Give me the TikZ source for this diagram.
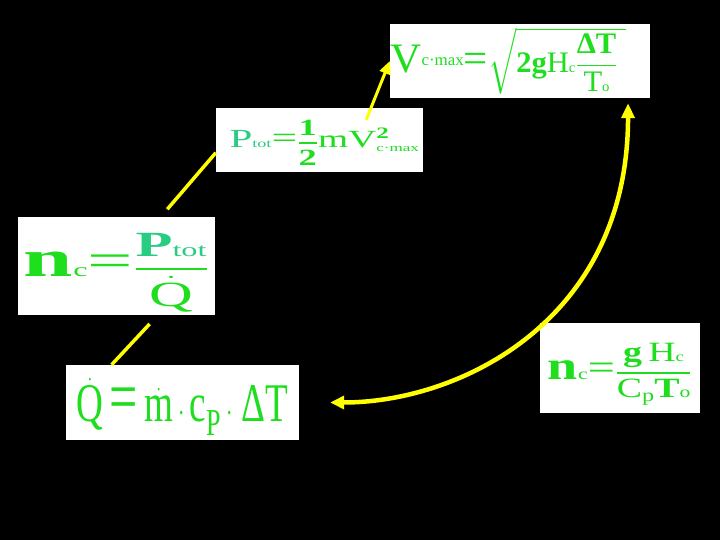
\documentclass[tikz,border=0pt]{standalone}
\usepackage{amsmath}
\usepackage{graphicx}
\usepackage{fontspec}
\setmainfont{Liberation Serif}
\usepackage{tikz}
\usetikzlibrary{arrows.meta}
\definecolor{eqg}{RGB}{30,222,30}
\definecolor{totg}{RGB}{40,205,130}
\definecolor{ylw}{RGB}{255,255,0}
\newcommand{\fs}[2]{{\fontsize{#1}{#1}\selectfont #2}}
\newcommand{\uptop}[2]{\raisebox{0pt}[\dimexpr\height+#1\relax][\depth]{#2}}

\begin{document}
\begin{tikzpicture}[x=1pt,y=-1pt,
  b/.style={fill=white,inner sep=0pt,text=eqg},
  ln/.style={draw=ylw,line width=3.5pt},
  ar/.style={ln,-{Triangle[length=13pt,width=11pt]}}]
\fill[black] (0,0) rectangle (720,540);
% formula boxes
\node[b,minimum width=260pt,minimum height=74pt] (vc) at (520,61)
  {\resizebox*{235pt}{67pt}{\fs{38}{V}\raisebox{6pt}{\fs{15}{c·max}}\fs{38}{=}%
   \fs{27}{$\sqrt{\text{\textbf{2g}H\fs{13}{c}}\genfrac{}{}{1.6pt}{0}{\text{\textbf{ΔT}}}{\text{T\fs{13}{o}}}\;}$}}\hspace*{24pt}};
\node[b,minimum width=207pt,minimum height=64pt] (pt) at (319.5,140)
  {\hspace*{10pt}\uptop{6pt}{\resizebox*{190pt}{46pt}{\fs{36}{\textcolor{totg}{P\fs{16}{tot}}}\fs{40}{=}%
   \fs{32}{$\genfrac{}{}{3pt}{0}{\text{\textbf{1}}}{\text{\textbf{2}}}$}%
   \fs{34}{$\text{m}\text{V}^{\text{\fs{22}{\textbf{2}}}}_{\text{\fs{15}{c·max}}}$}}}};
\node[b,minimum width=197pt,minimum height=98pt] (nc) at (116.5,266)
  {\uptop{13pt}{\resizebox*{185pt}{79pt}{\fs{44}{\textbf{n}}\fs{16}{c}\fs{40}{=}%
   \fs{30}{$\genfrac{}{}{1.8pt}{0}{\text{\textcolor{totg}{\textbf{P}\fs{16}{tot}}}}{\dot{\text{Q}}}$}}}};
\node[b,minimum width=233pt,minimum height=75pt] (qd) at (182.5,402.5)
  {\uptop{8pt}{\resizebox*{212pt}{57pt}{\fs{40}{$\dot{\text{Q}}\mathrel{\text{\fs{54}{=}}}\dot{\text{m}}\cdot\text{c}_{\text{P}}\cdot\,\text{ΔT}$}}}};
\node[b,minimum width=160pt,minimum height=90pt] (nr) at (620,368)
  {\uptop{12pt}{\resizebox*{144pt}{62pt}{\fs{40}{\textbf{n}}\fs{16}{c}\fs{36}{=}%
   \fs{28}{$\genfrac{}{}{1.6pt}{0}{\text{\textbf{g}\,H\fs{14}{c}}}{\text{C\raisebox{-4pt}{\fs{18}{p}}\textbf{T}\fs{16}{o}}}$}}}};
% connectors
\draw[ln,shorten >=10pt] (pt.187) -- (nc.48);
\draw[ar,line width=3pt,shorten <=-13pt] (pt.32) -- (vc.west);
\draw[ln,shorten <=12pt] (nc.310) -- (qd.152);
\draw[ln,line width=4.5pt,{Triangle[length=14pt,width=13pt]}-{Triangle[length=15pt,width=13pt]},
  shorten <=31pt,shorten >=5pt] (qd.east) .. controls +(161,0) and +(0,222) .. (vc.341);
\end{tikzpicture}
\end{document}
